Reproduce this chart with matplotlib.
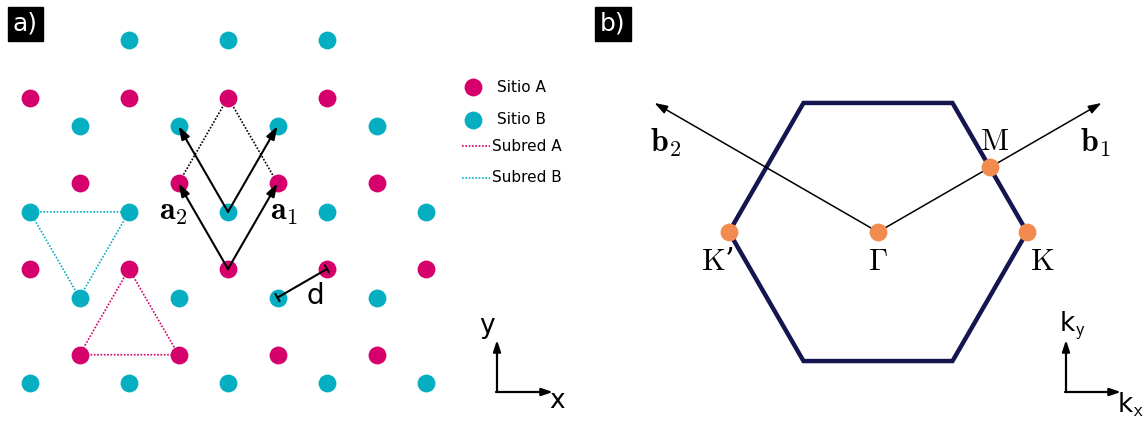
import numpy as np
import matplotlib.pyplot as plt
from matplotlib.lines import Line2D

plt.rcParams['mathtext.fontset'] = 'cm'

s3 = np.sqrt(3)

# --- panel a: honeycomb lattice (lattice constant a = 1) ---
# sublattice A sites
A_x = [-2, -1, 0, 1,
       -1.5, -0.5, 0.5, 1.5,
       -2, -1, 0, 1, 2,
       -1.5, -0.5, 0.5, 1.5]
A_y = [s3] * 4 + [s3 / 2] * 4 + [0] * 5 + [-s3 / 2] * 4
# sublattice B sites
B_x = [-1, 0, 1,
       -1.5, -0.5, 0.5, 1.5,
       -2, -1, 0, 1, 2,
       -1.5, -0.5, 0.5, 1.5,
       -2, -1, 0, 1, 2]
B_y = ([s3 + 1 / s3] * 3 + [s3 / 2 + 1 / s3] * 4 + [1 / s3] * 5
       + [-s3 / 2 + 1 / s3] * 4 + [-s3 + 1 / s3] * 5)

# primitive vectors
a1 = (0.5, s3 / 2)
a2 = (-0.5, s3 / 2)
# unit cell (dotted rhombus)
cell_x = [-0.5, 0, 0.5]
cell_y = [s3 / 2, s3, s3 / 2]
# sub-lattice triangles
subA_x = [-1, -1.5, -0.5, -1]
subA_y = [0, -s3 / 2, -s3 / 2, 0]
subB_x = [-2, -1, -1.5, -2]
subB_y = [1 / s3, 1 / s3, -s3 / 2 + 1 / s3, 1 / s3]
# nearest-neighbour bond d
d_start = (0.5, -s3 / 2 + 1 / s3)
d_end = (1, 0)

# --- panel b: first Brillouin zone (|K| = 1) ---
hex_ang = np.arange(0, 361, 60)
b1 = (1.5, s3 / 2)
b2 = (-1.5, s3 / 2)
pts_x = [0, 1, -1, 0.75]
pts_y = [0, 0, 0, s3 / 4]

colA = '#d5006c'
colB = '#06aec1'
colO = '#f28b50'
navy = '#15154f'
dots = (0, (1, 1))
head = '-|>,head_length=0.6,head_width=0.2'

fig = plt.figure(figsize=(11.46, 4.23), dpi=100)
W, H = 1146, 423

# left axes: 99 px per lattice constant, origin on an A site
axa = fig.add_axes([0, 0, 573 / W, 1])
axa.set_xlim((0 - 228) / 99, (573 - 228) / 99)
axa.set_ylim((269 - 423) / 99, 269 / 99)
axa.axis('off')

axa.plot(subB_x, subB_y, ls=dots, color=colB, lw=1.2, zorder=1)
axa.plot(subA_x, subA_y, ls=dots, color=colA, lw=1.2, zorder=1)
axa.plot(cell_x, cell_y, ls=dots, color='black', lw=1.2, zorder=1)
axa.scatter(A_x, A_y, s=165, color=colA, lw=0, zorder=2)
axa.scatter(B_x, B_y, s=165, color=colB, lw=0, zorder=2)

arrow_kw = dict(arrowstyle=head, color='black', lw=1.5, mutation_scale=13,
                shrinkA=0, shrinkB=0)
for ox, oy in [(0, 0), (0, 1 / s3)]:
    for v in (a1, a2):
        axa.annotate('', xy=(ox + v[0], oy + v[1]), xytext=(ox, oy),
                     arrowprops=arrow_kw, zorder=3)
axa.annotate('', xy=d_end, xytext=d_start,
             arrowprops=dict(arrowstyle='|-|', color='black', lw=1.5,
                             mutation_scale=3, shrinkA=0, shrinkB=0), zorder=3)
axa.text(-0.55, 0.58, r'$\mathbf{a}_2$', fontsize=23, ha='center', va='center')
axa.text(0.57, 0.58, r'$\mathbf{a}_1$', fontsize=23, ha='center', va='center')
axa.text(0.88, -0.27, 'd', fontsize=20, ha='center', va='center')


def pa(px, py):
    return px / 573, 1 - py / 423


# legend
for py, c, lab, kind in [(87, colA, 'Sitio A', 'o'), (120, colB, 'Sitio B', 'o'),
                         (146, colA, 'Subred A', ':'), (178, colB, 'Subred B', ':')]:
    x0, y0 = pa(473, py)
    if kind == 'o':
        axa.scatter([x0], [y0], s=165, color=c, lw=0, transform=axa.transAxes)
        axa.text(pa(497, py)[0], y0, lab, fontsize=11, va='center',
                 transform=axa.transAxes)
    else:
        axa.add_line(Line2D([pa(462, py)[0], pa(490, py)[0]], [y0, y0], ls=dots,
                            color=c, lw=1.2, transform=axa.transAxes))
        axa.text(pa(492, py)[0], y0, lab, fontsize=11, va='center',
                 transform=axa.transAxes)

# x / y indicator
ax_kw = dict(arrowstyle=head, color='black', lw=1.6, mutation_scale=11,
             shrinkA=0, shrinkB=0)
axa.annotate('', xy=pa(497, 340), xytext=pa(497, 392), xycoords='axes fraction',
             textcoords='axes fraction', arrowprops=ax_kw)
axa.annotate('', xy=pa(553, 392), xytext=pa(496, 392), xycoords='axes fraction',
             textcoords='axes fraction', arrowprops=ax_kw)
axa.text(*pa(487, 326), 'y', fontsize=19, ha='center', va='center',
         transform=axa.transAxes)
axa.text(*pa(557, 401), 'x', fontsize=19, ha='center', va='center',
         transform=axa.transAxes)

axa.text(*pa(25, 24), 'a)', fontsize=18, color='white', ha='center', va='center',
         transform=axa.transAxes,
         bbox=dict(boxstyle='square,pad=0.2', fc='black', ec='black'))

# right axes: 149 px per |K|, origin at Gamma
axb = fig.add_axes([573 / W, 0, 573 / W, 1])
axb.set_xlim((573 - 878) / 149, (1146 - 878) / 149)
axb.set_ylim((232 - 423) / 149, 232 / 149)
axb.axis('off')

hx = np.cos(np.radians(hex_ang))
hy = np.sin(np.radians(hex_ang))
axb.plot(hx, hy, color=navy, lw=3.2, solid_joinstyle='miter', zorder=1)
for v in (b1, b2):
    axb.annotate('', xy=v, xytext=(0, 0),
                 arrowprops=dict(arrowstyle=head, color='black', lw=1.1,
                                 mutation_scale=13, shrinkA=0, shrinkB=0),
                 zorder=2)
axb.scatter(pts_x, pts_y, s=165, color=colO, lw=0, zorder=3)


def pb(px, py):
    return (px - 573) / 573, 1 - py / 423


for px, py, lab in [(878, 262, r'$\Gamma$'), (1042, 262, r'$\mathrm{K}$'),
                    (717, 262, r'$\mathrm{K}$’'), (994, 141, r'$\mathrm{M}$')]:
    axb.text(*pb(px, py), lab, fontsize=22, ha='center', va='center',
             family='DejaVu Serif', transform=axb.transAxes)
axb.text(*pb(666, 143), r'$\mathbf{b}_2$', fontsize=23, ha='center', va='center',
         transform=axb.transAxes)
axb.text(*pb(1095, 143), r'$\mathbf{b}_1$', fontsize=23, ha='center', va='center',
         transform=axb.transAxes)

axb.annotate('', xy=pb(1066, 340), xytext=pb(1066, 392), xycoords='axes fraction',
             textcoords='axes fraction', arrowprops=ax_kw)
axb.annotate('', xy=pb(1121, 392), xytext=pb(1065, 392), xycoords='axes fraction',
             textcoords='axes fraction', arrowprops=ax_kw)
axb.text(*pb(1072, 326), r'k$_\mathsf{y}$', fontsize=19, ha='center', va='center',
         transform=axb.transAxes)
axb.text(*pb(1130, 405), r'k$_\mathsf{x}$', fontsize=19, ha='center', va='center',
         transform=axb.transAxes)

axb.text(*pb(613, 24), 'b)', fontsize=18, color='white', ha='center', va='center',
         transform=axb.transAxes,
         bbox=dict(boxstyle='square,pad=0.2', fc='black', ec='black'))

fig.savefig('out.png', dpi=100)
